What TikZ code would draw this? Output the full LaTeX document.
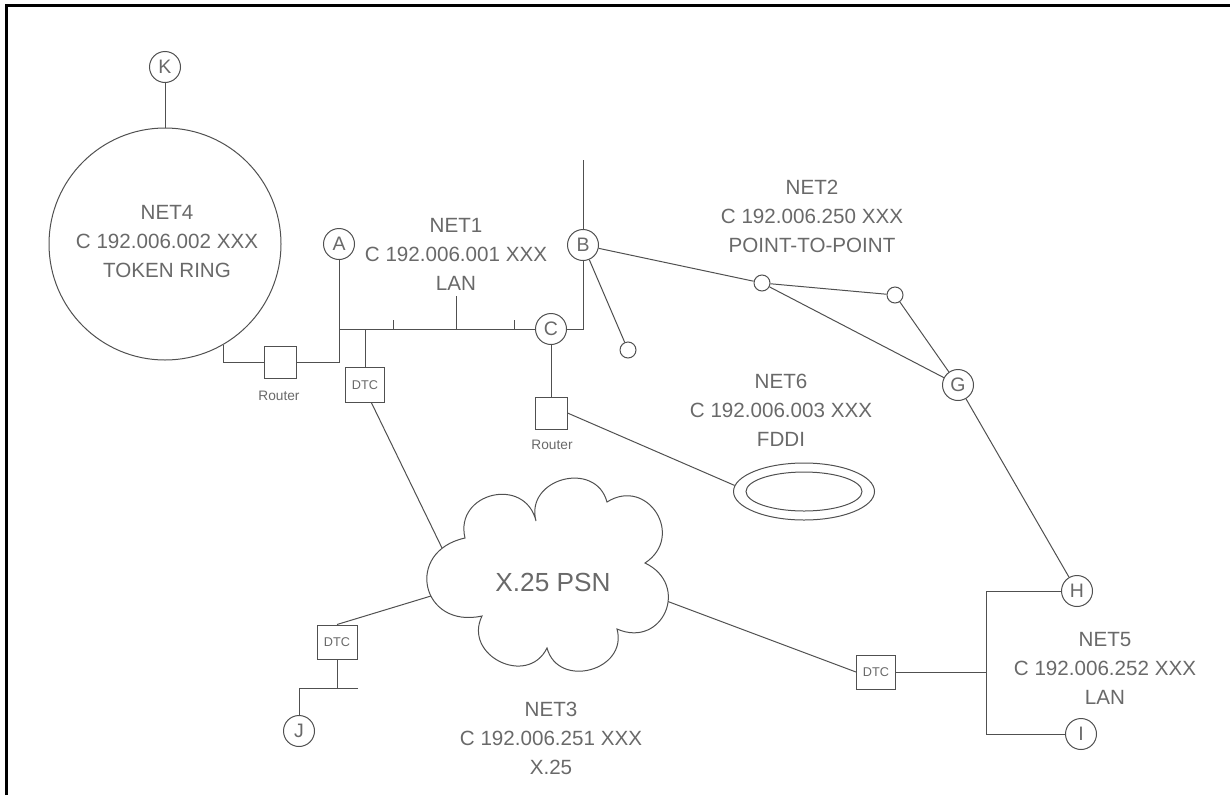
\documentclass[tikz,border=0pt]{standalone}
\usepackage{fontspec}
\setmainfont{Liberation Sans}
\usetikzlibrary{shapes.geometric}
\definecolor{linegray}{RGB}{80,80,80}
\definecolor{txtgray}{RGB}{105,105,105}
\tikzset{
  ln/.style={draw=linegray, line width=1pt},
  site/.style={circle, draw=linegray, line width=1pt, minimum size=31pt, inner sep=0pt, text=txtgray, font=\fontsize{19.5}{20}\selectfont},
  hop/.style={circle, draw=linegray, line width=1pt, minimum size=16pt, inner sep=0pt},
  devbox/.style={rectangle, draw=linegray, line width=1pt, inner sep=0pt, text=txtgray},
  netlabel/.style={align=center, text=txtgray, font=\fontsize{20.6}{29}\selectfont},
  smalllabel/.style={text=txtgray, font=\fontsize{13.7}{15}\selectfont},
}
\begin{document}
\begin{tikzpicture}[x=1pt, y=-1pt]
\useasboundingbox (0,0) rectangle (1230,795);
% frame
\draw[line width=2.7pt, black] (6.5,795) -- (6.5,5.3) -- (1230,5.3);

% NET4 token ring
\node[site] (K) at (165,67) {K};
\node[circle, draw=linegray, line width=1pt, minimum size=232pt, inner sep=0pt] (ring) at (165,244) {};
\node[netlabel] (net4) at (167,242) {NET4\\C 192.006.002 XXX\\TOKEN RING};
\draw[ln] (K.south) -- (ring.north);

% Router 1
\node[devbox, minimum size=32pt] (r1) at (280,362) {};
\node[smalllabel] (r1lab) at (279,396) {Router};
\node[site] (A) at (339,244) {A};
\draw[ln] (ring.-60) |- (r1.west);
\draw[ln] (r1.east) -| (A.south);

% NET1 LAN
\node[site] (C) at (551,329) {C};
\coordinate (busL) at (339,329);
\draw[ln] (busL) -- (C.west);
\coordinate (t1) at (393,320);
\coordinate (t2) at (456,296);
\coordinate (t3) at (514,320);
\draw[ln] (t1) -- (t1 |- busL);
\draw[ln] (t2) -- (t2 |- busL);
\draw[ln] (t3) -- (t3 |- busL);
\node[netlabel] (net1) at (456,254) {NET1\\C 192.006.001 XXX\\LAN};
\node[devbox, minimum width=39pt, minimum height=35pt, font=\fontsize{12.7}{14}\selectfont] (dtc1) at (365,385) {DTC};
\draw[ln] (dtc1.north) -- (dtc1.north |- busL);

% B and point-to-point
\node[site] (B) at (583,245) {B};
\coordinate (btop) at (583,160);
\draw[ln] (B.north) -- (btop);
\draw[ln] (B.south) |- (C.east);
\node[hop] (s1) at (628,350) {};
\node[hop] (n1) at (762,283) {};
\node[hop] (n2) at (895,295) {};
\node[site] (G) at (958,385) {G};
\draw[ln] (B) -- (s1);
\draw[ln] (B) -- (n1);
\draw[ln] (n1) -- (n2);
\draw[ln] (n1) -- (G);
\draw[ln] (n2) -- (G);
\node[netlabel] (net2) at (812,216) {NET2\\C 192.006.250 XXX\\POINT-TO-POINT};

% Router 2 and FDDI
\node[devbox, minimum size=32pt] (r2) at (551,413) {};
\node[smalllabel] (r2lab) at (552,445) {Router};
\draw[ln] (C.south) -- (r2.north);
\node[ellipse, draw=linegray, line width=1pt, minimum width=141pt, minimum height=57pt, inner sep=0pt] (fddi) at (804,491.5) {};
\node[ellipse, draw=linegray, line width=1pt, minimum width=116pt, minimum height=39pt, inner sep=0pt] (fddiin) at (804,491.5) {};
\draw[ln] (r2.east) -- (fddi.175);
\node[netlabel] (net6) at (781,410) {NET6\\C 192.006.003 XXX\\FDDI};

% X.25 cloud
\draw[ln] (482,616)
  .. controls (420.9,629.3) and (403.9,551.3) .. (465,538)
  .. controls (454.1,492.6) and (525.1,475.6) .. (536,521)
  .. controls (524.6,478.5) and (595.6,459.5) .. (607,502)
  .. controls (647.6,476.3) and (685.6,536.3) .. (645,563)
  .. controls (690.8,585) and (662.8,649) .. (617,629)
  .. controls (628.3,670.5) and (558.3,689.5) .. (547,648)
  .. controls (527.6,687.5) and (462.6,655.5) .. (482,616) -- cycle;
\node[text=txtgray, font=\fontsize{26.2}{28}\selectfont] (psn) at (553,582) {X.25 PSN};
\coordinate (cl1) at (442,548);
\coordinate (cl2) at (431,596);
\coordinate (cl3) at (668,601.5);
\draw[ln] (dtc1.-70) -- (cl1);

% NET3 side
\node[devbox, minimum width=40pt, minimum height=34pt, font=\fontsize{12.7}{14}\selectfont] (dtc2) at (337,642) {DTC};
\draw[ln] (dtc2.north) -- (cl2);
\coordinate (jbusL) at (299,688);
\coordinate (jbusR) at (358,688);
\node[site] (J) at (299,731) {J};
\draw[ln] (dtc2.south) -- (dtc2.south |- jbusL);
\draw[ln] (jbusR) -- (jbusL) -- (J.north);
\node[netlabel] (net3) at (551,738) {NET3\\C 192.006.251 XXX\\X.25};

% NET5 side
\node[devbox, minimum width=39pt, minimum height=34pt, font=\fontsize{12.7}{14}\selectfont] (dtc3) at (876,672) {DTC};
\draw[ln] (cl3) -- (dtc3.west);
\node[site] (H) at (1077,591) {H};
\node[site] (I) at (1081,734) {I};
\draw[ln] (G) -- (H);
\coordinate (bb) at (986,734);
\draw[ln] (H.west) -| (bb) -- (I.west);
\draw[ln] (dtc3.east) -- (dtc3.east -| bb);
\node[netlabel] (net5) at (1105,668) {NET5\\C 192.006.252 XXX\\LAN};
\end{tikzpicture}
\end{document}
